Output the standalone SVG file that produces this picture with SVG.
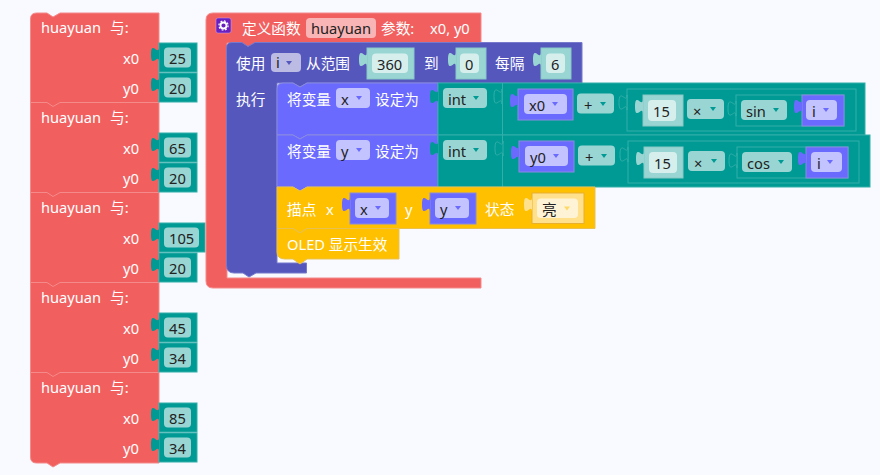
<svg xmlns="http://www.w3.org/2000/svg" width="880" height="475" viewBox="0 0 880 475">
<style>
text{font-family:"Noto Sans","Noto Sans CJK SC",sans-serif;font-size:14.67px;fill:#fff}
.d{fill:#222}
.r{fill:#f25f5f;stroke:#f48a8a;stroke-width:1}
.p{fill:#5557bd;stroke:#7779cc;stroke-width:1}
.b{fill:#6a6aff;stroke:#8a8ae0;stroke-width:1}
.t{fill:#009a94;stroke:#33aea9;stroke-width:1}
.tl{fill:#99d6d3;stroke:#88c8c5;stroke-width:1}
.y{fill:#ffc000;stroke:#e8c050;stroke-width:1}
.ly{fill:#ffe08c;stroke:#e8b030;stroke-width:1}
.box{fill:none;stroke:#33aea9;stroke-width:1}
.ft{fill:#99d6d3}
.fb{fill:#c3c3ff}
.fp{fill:#bbbbe4}
.fl{fill:#d6efed}
.fr{fill:#f9b5b5}
.fy{fill:#fff3d6}
</style>
<defs>
<path id="tab" d="M0,4 c0,10 -8,-8 -8,7.500 s8,-2.500 8,7.500 Z"/>
<path id="arr" d="M-3,-2 H3 L0,2 Z"/>
</defs>
<rect width="880" height="475" fill="#f8faff"/>

<g id="caller-stack">
<path class="r" d="M30.500,19 Q30.500,13 36.500,13 H47 L53,17 L60,13 H159 V463 H60 L53,467 L47,463 H36.500 Q30.500,463 30.500,457 Z"/>
<path d="M31,102.500 H47 L53,106.500 L60,102.500 H159 M31,192.500 H47 L53,196.500 L60,192.500 H159 M31,282.500 H47 L53,286.500 L60,282.500 H159 M31,372.500 H47 L53,376.500 L60,372.500 H159" fill="none" stroke="#f48a8a"/>
</g>
<g id="call-1">
<text x="41" y="33">huayuan</text><text x="110" y="33">与:</text><text x="123" y="64">x0</text><text x="123" y="94">y0</text>
<rect class="t" x="159" y="43" width="38" height="29"/><use href="#tab" x="159" y="43" fill="#009a94"/><rect class="ft" x="164" y="47.500" width="27" height="20" rx="4"/><text class="d" x="169" y="63.500">25</text>
<rect class="t" x="159" y="73" width="38" height="29"/><use href="#tab" x="159" y="73" fill="#009a94"/><rect class="ft" x="164" y="77.500" width="27" height="20" rx="4"/><text class="d" x="169" y="93.500">20</text>
</g>
<g id="call-2">
<text x="41" y="123">huayuan</text><text x="110" y="123">与:</text><text x="123" y="154">x0</text><text x="123" y="184">y0</text>
<rect class="t" x="159" y="133" width="38" height="29"/><use href="#tab" x="159" y="133" fill="#009a94"/><rect class="ft" x="164" y="137.500" width="27" height="20" rx="4"/><text class="d" x="169" y="153.500">65</text>
<rect class="t" x="159" y="163" width="38" height="29"/><use href="#tab" x="159" y="163" fill="#009a94"/><rect class="ft" x="164" y="167.500" width="27" height="20" rx="4"/><text class="d" x="169" y="183.500">20</text>
</g>
<g id="call-3">
<text x="41" y="213">huayuan</text><text x="110" y="213">与:</text><text x="123" y="244">x0</text><text x="123" y="274">y0</text>
<rect class="t" x="159" y="223" width="46" height="29"/><use href="#tab" x="159" y="223" fill="#009a94"/><rect class="ft" x="164" y="227.500" width="35" height="20" rx="4"/><text class="d" x="169" y="243.500">105</text>
<rect class="t" x="159" y="253" width="38" height="29"/><use href="#tab" x="159" y="253" fill="#009a94"/><rect class="ft" x="164" y="257.500" width="27" height="20" rx="4"/><text class="d" x="169" y="273.500">20</text>
</g>
<g id="call-4">
<text x="41" y="303">huayuan</text><text x="110" y="303">与:</text><text x="123" y="334">x0</text><text x="123" y="364">y0</text>
<rect class="t" x="159" y="313" width="38" height="29"/><use href="#tab" x="159" y="313" fill="#009a94"/><rect class="ft" x="164" y="317.500" width="27" height="20" rx="4"/><text class="d" x="169" y="333.500">45</text>
<rect class="t" x="159" y="343" width="38" height="29"/><use href="#tab" x="159" y="343" fill="#009a94"/><rect class="ft" x="164" y="347.500" width="27" height="20" rx="4"/><text class="d" x="169" y="363.500">34</text>
</g>
<g id="call-5">
<text x="41" y="393">huayuan</text><text x="110" y="393">与:</text><text x="123" y="424">x0</text><text x="123" y="454">y0</text>
<rect class="t" x="159" y="403" width="38" height="29"/><use href="#tab" x="159" y="403" fill="#009a94"/><rect class="ft" x="164" y="407.500" width="27" height="20" rx="4"/><text class="d" x="169" y="423.500">85</text>
<rect class="t" x="159" y="433" width="38" height="29"/><use href="#tab" x="159" y="433" fill="#009a94"/><rect class="ft" x="164" y="437.500" width="27" height="20" rx="4"/><text class="d" x="169" y="453.500">34</text>
</g>

<g id="function-def">
<path class="r" d="M206,20 Q206,13 213,13 H481 V43 H255 L248,47 L242,43 H227 V278 H481 V288 H213 Q206,288 206,281 Z"/>
<rect x="216" y="18" width="15" height="15" rx="2" fill="#6a1fc0" stroke="#c9a5f0" stroke-width="0.500"/>
<circle cx="223.500" cy="25.500" r="3" fill="none" stroke="#fff" stroke-width="1.800"/>
<circle cx="223.500" cy="25.500" r="4.600" fill="none" stroke="#fff" stroke-width="1.200" stroke-dasharray="1.800 1.800"/>
<text x="242" y="34">定义函数</text>
<rect class="fr" x="306" y="18" width="70" height="20" rx="4"/><text class="d" x="311" y="34">huayuan</text>
<text x="381" y="34">参数:</text><text x="430" y="34">x0, y0</text>
</g>

<g id="for-loop">
<path class="p" d="M226.500,48 Q226.500,42.500 232,42.500 H242 L248,46.500 L255,42.500 H582 V83 H307 L300,87 L293,83 H277 V263 H306.500 V273 H256 L249,277 L243,273 H234 Q226.500,273 226.500,265 Z"/>
<text x="236" y="69">使用</text>
<rect class="fp" x="271" y="53" width="30" height="19" rx="4"/><text class="d" x="276" y="68">i</text><use href="#arr" x="289" y="63" fill="#5557bd"/>
<text x="306" y="69">从范围</text>
<rect class="tl" x="367" y="48" width="47" height="31"/><use href="#tab" x="367" y="48" fill="#99d6d3"/><rect class="fl" x="372" y="53.500" width="36" height="19.500" rx="4"/><text class="d" x="377" y="69.500">360</text>
<text x="424" y="69">到</text>
<rect class="tl" x="456" y="48" width="30" height="31"/><use href="#tab" x="456" y="48" fill="#99d6d3"/><rect class="fl" x="460" y="53.500" width="19" height="19.500" rx="4"/><text class="d" x="465" y="69.500">0</text>
<text x="495" y="69">每隔</text>
<rect class="tl" x="541" y="48" width="30" height="31"/><use href="#tab" x="541" y="48" fill="#99d6d3"/><rect class="fl" x="546" y="53.500" width="19" height="19.500" rx="4"/><text class="d" x="551" y="69.500">6</text>
<text x="236" y="105">执行</text>
</g>

<g id="set-x">
<path class="b" d="M277,89 Q277,83 283,83 H293 L300,87 L307,83 H438 V135 H307 L300,139 L293,135 H277 Z"/>
<text x="287" y="105">将变量</text>
<rect class="fb" x="336" y="88" width="34" height="20" rx="4"/><text class="d" x="341" y="105">x</text><use href="#arr" x="359" y="98" fill="#6a6aff"/>
<text x="375" y="105">设定为</text>
<rect class="t" x="438" y="83" width="427" height="52"/><use href="#tab" x="438" y="85" fill="#009a94"/>
<rect class="ft" x="443" y="88" width="44" height="20" rx="4"/><text class="d" x="448" y="105">int</text><use href="#arr" x="476" y="98" fill="#009a94"/>
<path class="box" d="M502.500,83 V135"/><use href="#tab" x="502" y="85" fill="#009a94" stroke="#33aea9"/>
<rect class="b" x="518" y="89" width="55" height="31"/><use href="#tab" x="518" y="89" fill="#6a6aff"/>
<rect class="fb" x="524" y="94" width="43" height="20" rx="4"/><text class="d" x="529" y="111">x0</text><use href="#arr" x="555" y="104" fill="#6a6aff"/>
<rect class="ft" x="577" y="93.500" width="37" height="20" rx="4"/><text class="d" x="584" y="111">+</text><use href="#arr" x="603" y="104" fill="#009a94"/>
<rect class="box" x="627" y="89" width="229" height="42"/><use href="#tab" x="627" y="91" fill="#009a94" stroke="#33aea9"/>
<rect class="tl" x="643" y="95" width="40" height="31"/><use href="#tab" x="643" y="95" fill="#99d6d3"/><rect class="fl" x="648" y="100" width="28" height="21" rx="4"/><text class="d" x="653" y="117">15</text>
<rect class="ft" x="687" y="99" width="37" height="20" rx="4"/><text class="d" x="693" y="116.500">×</text><use href="#arr" x="713" y="109" fill="#009a94"/>
<rect class="box" x="736" y="95" width="108" height="31"/><use href="#tab" x="736" y="97" fill="#009a94" stroke="#33aea9"/>
<rect class="ft" x="741" y="100" width="46" height="20" rx="4"/><text class="d" x="746" y="117">sin</text><use href="#arr" x="776" y="110" fill="#009a94"/>
<rect class="b" x="802" y="95" width="42" height="31"/><use href="#tab" x="802" y="95" fill="#6a6aff"/>
<rect class="fb" x="806" y="100" width="31" height="20" rx="4"/><text class="d" x="812" y="117">i</text><use href="#arr" x="826" y="110" fill="#6a6aff"/>
</g>

<g id="set-y">
<path class="b" d="M277,135 H293 L300,139 L307,135 H438 V187 H307 L300,191 L293,187 H277 Z"/>
<text x="287" y="157">将变量</text>
<rect class="fb" x="336" y="140" width="34" height="20" rx="4"/><text class="d" x="341" y="157">y</text><use href="#arr" x="359" y="150" fill="#6a6aff"/>
<text x="375" y="157">设定为</text>
<rect class="t" x="438" y="135" width="432" height="52"/><use href="#tab" x="438" y="137" fill="#009a94"/>
<rect class="ft" x="443" y="140" width="44" height="20" rx="4"/><text class="d" x="448" y="157">int</text><use href="#arr" x="476" y="150" fill="#009a94"/>
<path class="box" d="M502.500,135 V187"/><use href="#tab" x="503" y="137" fill="#009a94" stroke="#33aea9"/>
<rect class="b" x="519" y="141" width="55" height="31"/><use href="#tab" x="519" y="141" fill="#6a6aff"/>
<rect class="fb" x="525" y="146" width="43" height="20" rx="4"/><text class="d" x="530" y="163">y0</text><use href="#arr" x="556" y="156" fill="#6a6aff"/>
<rect class="ft" x="578" y="145.500" width="37" height="20" rx="4"/><text class="d" x="585" y="163">+</text><use href="#arr" x="604" y="156" fill="#009a94"/>
<rect class="box" x="628" y="141" width="231" height="42"/><use href="#tab" x="628" y="143" fill="#009a94" stroke="#33aea9"/>
<rect class="tl" x="644" y="147" width="39" height="31"/><use href="#tab" x="644" y="147" fill="#99d6d3"/><rect class="fl" x="649" y="152" width="28" height="21" rx="4"/><text class="d" x="654" y="169">15</text>
<rect class="ft" x="688" y="151" width="37" height="20" rx="4"/><text class="d" x="694" y="168.500">×</text><use href="#arr" x="714" y="161" fill="#009a94"/>
<rect class="box" x="737" y="147" width="111" height="31"/><use href="#tab" x="737" y="149" fill="#009a94" stroke="#33aea9"/>
<rect class="ft" x="742" y="152" width="50" height="20" rx="4"/><text class="d" x="747" y="169">cos</text><use href="#arr" x="781" y="162" fill="#009a94"/>
<rect class="b" x="806" y="147" width="42" height="31"/><use href="#tab" x="806" y="147" fill="#6a6aff"/>
<rect class="fb" x="811" y="152" width="31" height="20" rx="4"/><text class="d" x="817" y="169">i</text><use href="#arr" x="830" y="162" fill="#6a6aff"/>
</g>

<g id="draw-point">
<path class="y" d="M277,187 H293 L300,191 L307,187 H595 V228.500 H307 L300,233 L293,228.500 H277 Z"/>
<text x="287" y="214.500">描点</text><text x="326" y="214.500">x</text>
<rect class="b" x="350" y="193" width="46" height="31"/><use href="#tab" x="350" y="193" fill="#6a6aff"/>
<rect class="fb" x="355" y="198" width="34" height="20" rx="4"/><text class="d" x="360" y="215">x</text><use href="#arr" x="378" y="208" fill="#6a6aff"/>
<text x="405" y="214.500">y</text>
<rect class="b" x="430" y="193" width="46" height="31"/><use href="#tab" x="430" y="193" fill="#6a6aff"/>
<rect class="fb" x="435" y="198" width="34" height="20" rx="4"/><text class="d" x="440" y="215">y</text><use href="#arr" x="458" y="208" fill="#6a6aff"/>
<text x="485" y="214.500">状态</text>
<rect class="ly" x="532" y="193" width="52" height="30.500"/><use href="#tab" x="532" y="193" fill="#ffe08c"/>
<rect class="fy" x="537" y="198.500" width="41" height="19.500" rx="4"/><text class="d" x="542" y="215">亮</text><use href="#arr" x="567" y="208.500" fill="#ffd966"/>
</g>

<g id="oled-show">
<path class="y" d="M277,228.500 H293 L300,233 L307,228.500 H399 V259 H307 L300,264 L293,259 H285 Q277,259 277,252 Z"/>
<text x="287" y="250">OLED 显示生效</text>
</g>
<g id="connectors"></g>
</svg>
